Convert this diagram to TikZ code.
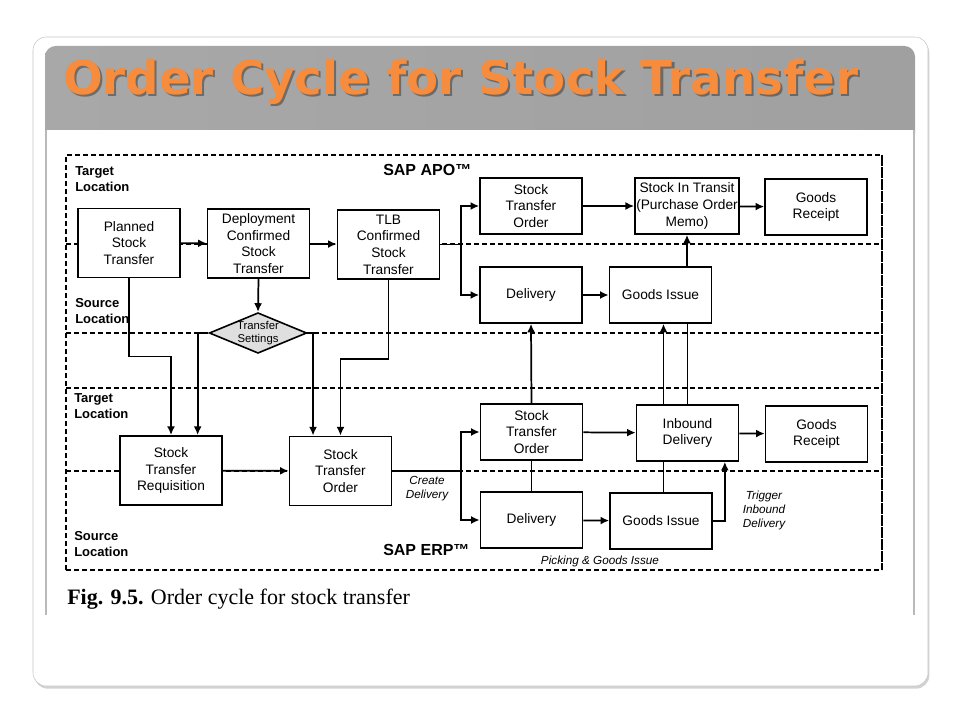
\documentclass[tikz,border=0pt]{standalone}
\usepackage{fontspec}
\setmainfont{Liberation Sans}
\newfontfamily\titlefont{DejaVu Sans}
\newfontfamily\capfont{Liberation Serif}
\usetikzlibrary{arrows.meta,shapes.geometric,shadows}
\definecolor{titleorange}{HTML}{F68D3E}

\begin{document}
\begin{tikzpicture}[x=0.75pt,y=-0.75pt,
		box/.style={draw,fill=white,line width=1.2pt,align=center,font=\fontsize{10.3}{12.5}\selectfont,minimum width=76.5pt,inner sep=1pt},
		bigbox/.style={box,minimum height=52pt},
		smallbox/.style={box,minimum height=42pt},
		arr/.style={line width=1.3pt,-{Latex[length=6.5pt,width=6pt]}},
		link/.style={line width=1.3pt},
		zone/.style={dash pattern=on 3.5pt off 2.5pt,line width=1pt},
		side/.style={font=\bfseries\fontsize{9.75}{12}\selectfont,align=left,anchor=north west,inner sep=0pt},
		sys/.style={font=\bfseries\fontsize{12}{14}\selectfont,anchor=north west,inner sep=0pt},
		note/.style={font=\itshape\fontsize{8.8}{10.5}\selectfont,align=center,inner sep=0pt}]
		\useasboundingbox (0,0) rectangle (960,720);
		\fill[white] (0,0) rectangle (960,720);
		% slide and title band
		\draw[gray!45,fill=white,rounded corners=10pt,drop shadow={shadow xshift=1pt,shadow yshift=-2pt,opacity=0.35}] (33,37) rectangle (928,686);
		\shade[left color={rgb,255:red,168;green,168;blue,168},middle color={rgb,255:red,206;green,206;blue,206},right color={rgb,255:red,160;green,160;blue,160},rounded corners=8pt] (45,46) rectangle (915,145);
		\fill[white] (45,130) rectangle (915,615);
		\draw[gray!55,line width=2pt] (46,130) -- (46,615);
		\draw[gray!55,line width=1.5pt] (914,130) -- (914,615);
		\node[anchor=base west,inner sep=0pt,text=black,opacity=0.35,font=\titlefont\bfseries\fontsize{35}{40}\selectfont] at (65,97) {Order Cycle for Stock Transfer};
		\node[anchor=base west,inner sep=0pt,text=titleorange,font=\titlefont\bfseries\fontsize{35}{40}\selectfont] (title) at (63,95) {Order Cycle for Stock Transfer};
		% zones
		\draw[zone] (66,570) -- (66,155) -- (882,155);
		\draw[zone] (66,570) -- (882,570);
		\draw[line width=1pt,dash pattern=on 8pt off 1pt] (882,155) -- (882,570);
		\foreach \y in {244,333,388,471}
			\draw[zone] (66,\y) -- (882,\y);
		\node[side] (tgt1) at (75,166) {Target\\Location};
		\node[side] (src1) at (75,298) {Source\\Location};
		\node[side] (tgt2) at (74,393) {Target\\Location};
		\node[side] (src2) at (74,531) {Source\\Location};
		\node[sys] (apo) at (383,164) {SAP APO™};
		\node[sys] (erp) at (383,544) {SAP ERP™};
		% APO boxes
		\node[bigbox] (plan) at (129,243) {Planned\\Stock\\Transfer};
		\node[bigbox] (deploy) at (258.5,243.5) {Deployment\\Confirmed\\Stock\\Transfer};
		\node[bigbox] (tlb) at (388.5,244.5) {TLB\\Confirmed\\Stock\\Transfer};
		\node[draw,diamond,fill=gray!25,line width=1.2pt,aspect=2.4,inner sep=0pt,minimum width=72.75pt,minimum height=30pt,align=center,font=\fontsize{8.5}{9.5}\selectfont] (set) at (258,333) {Transfer\\Settings};
		\node[smallbox] (sto1) at (531,206) {Stock\\Transfer\\Order};
		\node[smallbox] (transit) at (687,206) {Stock In Transit\\(Purchase Order\\Memo)};
		\node[smallbox] (gr1) at (816,207) {Goods\\Receipt};
		\node[smallbox] (del1) at (531,295) {Delivery};
		\node[smallbox] (gi1) at (660.5,295) {Goods Issue};
		% ERP boxes
		\node[bigbox] (req) at (171,470.5) {Stock\\Transfer\\Requisition};
		\node[bigbox] (sto2) at (340.5,471) {Stock\\Transfer\\Order};
		\node[smallbox] (sto3) at (531.5,432) {Stock\\Transfer\\Order};
		\node[smallbox] (inb) at (687.5,433) {Inbound\\Delivery};
		\node[smallbox] (gr2) at (816.5,434) {Goods\\Receipt};
		\node[smallbox] (del2) at (531.5,520) {Delivery};
		\node[smallbox] (gi2) at (661,521) {Goods Issue};
		% APO flow
		\draw[arr] (plan) -- (deploy);
		\draw[arr] (deploy) -- (tlb);
		\coordinate (fk1) at (461,244.5);
		\draw[link] (tlb.east) -- (fk1);
		\draw[arr] (fk1) |- (sto1.west);
		\draw[arr] (fk1) |- (del1.west);
		\draw[arr] (sto1) -- (transit);
		\draw[arr] (transit) -- (gr1);
		\draw[arr] (del1) -- (gi1);
		\draw[arr] (gi1.north -| transit.south) -- (transit.south);
		\draw[arr] (deploy.south) -- (set.north);
		% down to ERP
		\draw[arr] (plan.south) -- ++(0,78) -| (req.north);
		\draw[arr] (set.west) -| ([xshift=20pt]req.north);
		\draw[arr] (set.east) -| ([xshift=-20.6pt]sto2.north);
		\draw[arr] (tlb.south) -- ++(0,79) -| (sto2.north);
		% ERP flow
		\draw[arr] (req) -- (sto2);
		\coordinate (fk2) at (461,471);
		\draw[link] (sto2.east) -- (fk2);
		\draw[arr] (fk2) |- (sto3.west);
		\draw[arr] (fk2) |- (del2.west);
		\draw[arr] (sto3) -- (inb);
		\draw[arr] (inb) -- (gr2);
		\draw[arr] (del2) -- (gi2);
		\draw[arr] (gi2.east) -| ([xshift=28pt]inb.south);
		% links between the two systems
		\draw[arr] (sto3.north) -- (del1.south);
		\draw[link] (del2.north) -- (sto3.south);
		\draw[arr] ([xshift=-18pt]inb.north) -- ([xshift=-18pt]inb.north |- gi1.south);
		\draw[link] ([xshift=-18pt]inb.south) -- ([xshift=-18pt]inb.south |- gi2.north);
		\draw[line width=0.9pt] (gi1.south -| inb.north) -- (inb.north);
		% notes
		\node[note] (create) at (427,489) {Create\\Delivery};
		\node[note] (trigger) at (764,510) {Trigger\\Inbound\\Delivery};
		\node[note] (picking) at (600,561) {Picking \& Goods Issue};
		\node[anchor=base west,inner sep=0pt,font=\capfont\fontsize{16.5}{20}\selectfont] (caption) at (67,604) {\textbf{Fig. 9.5.} Order cycle for stock transfer};
	\end{tikzpicture}
\end{document}
